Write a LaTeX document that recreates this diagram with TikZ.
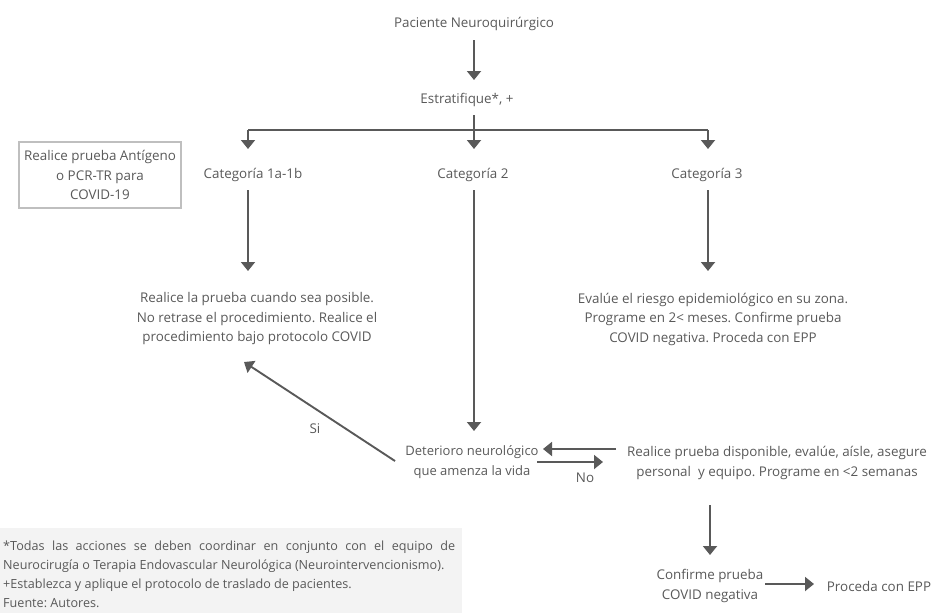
\documentclass[tikz,border=0pt]{standalone}
\usepackage{fontspec}
\setmainfont{Open Sans}
\usetikzlibrary{arrows.meta}
\definecolor{txt}{HTML}{595959}
\definecolor{ln}{HTML}{595959}
\definecolor{bx}{HTML}{BFBFBF}
\definecolor{fn}{HTML}{F3F3F3}
\tikzset{
  lbl/.style={text=txt, font=\fontsize{13.4}{19.5}\selectfont\frenchspacing, align=center, inner sep=0pt, yshift=-2pt},
  arr/.style={draw=ln, line width=1.9pt, -{Triangle[length=9pt,width=14pt]}},
  seg/.style={draw=ln, line width=1.9pt},
}
\begin{document}
\begin{tikzpicture}[x=1pt,y=-1pt]
\useasboundingbox (0,0) rectangle (941,613);
% footnote background
\fill[fn] (0,528) rectangle (462,613);
\node[lbl, align=left, anchor=north west, font=\fontsize{12.6}{19}\selectfont\frenchspacing] (foot) at (3,539)
 {\makebox[452pt][s]{*Todas las acciones se deben coordinar en conjunto con el equipo de}\\
 Neurocirugía o Terapia Endovascular Neurológica (Neurointervencionismo).\\
 +Establezca y aplique el protocolo de traslado de pacientes.\\
 Fuente: Autores.};

\node[lbl] (pac) at (474,22) {Paciente Neuroquirúrgico};
\node[lbl] (est) at (467,98) {Estratifique*, +};
\node[lbl] (c1) at (253,173) {Categoría 1a-1b};
\node[lbl] (c2) at (473,173) {Categoría 2};
\node[lbl] (c3) at (707,173) {Categoría 3};
\node[lbl, yshift=2pt, draw=bx, line width=1.2pt, minimum width=162pt, minimum height=66pt] (ant) at (100,175)
 {Realice prueba Antígeno\\o PCR-TR para\\COVID-19};
\node[lbl] (r1) at (257,317) {Realice la prueba cuando sea posible.\\No retrase el procedimiento. Realice el\\procedimiento bajo protocolo COVID};
\node[lbl] (r3) at (713,317) {Evalúe el riesgo epidemiológico en su zona.\\Programe en 2< meses. Confirme prueba\\COVID negativa. Proceda con EPP};
\node[lbl, font=\fontsize{13}{19.5}\selectfont\frenchspacing] (det) at (472,460) {Deterioro neurológico\\que amenza la vida};
\node[lbl] (rp) at (777,461) {Realice prueba disponible, evalúe, aísle, asegure\\personal\ \ y equipo. Programe en <2 semanas};
\node[lbl] (conf) at (710,584) {Confirme prueba\\COVID negativa};
\node[lbl] (proc) at (879,584) {Proceda con EPP};
\node[lbl] (si) at (315,427) {Si};
\node[lbl] (no) at (585,476) {No};

\coordinate (pacB) at (474,40);
\coordinate (estT) at (474,80);
\coordinate (estB) at (474,115);
\coordinate (br) at (474,130);
\coordinate (brL) at (248,130);
\coordinate (brR) at (708,130);
\coordinate (c1T) at (248,149);
\coordinate (c2T) at (474,149);
\coordinate (c3T) at (708,149);
\coordinate (c1B) at (248,190);
\coordinate (r1T) at (248,271);
\coordinate (c2B) at (474,190);
\coordinate (detT) at (474,431);
\coordinate (c3B) at (708,190);
\coordinate (r3T) at (708,271);
\coordinate (siA) at (395,461);
\coordinate (siB) at (244,362);
\coordinate (rpL) at (616,449);
\coordinate (detR) at (543,449);
\coordinate (detR2) at (537,462);
\coordinate (rpL2) at (603,462);
\coordinate (rpB) at (710,505);
\coordinate (confT) at (710,555);
\coordinate (confR) at (765,584);
\coordinate (procL) at (814,584);

\draw[arr] (pacB) -- (estT);
\draw[seg] (estB) -- (br);
\draw[seg] (brL) -- (brR);
\draw[arr] (brL) -- (c1T);
\draw[arr] (br) -- (c2T);
\draw[arr] (brR) -- (c3T);
\draw[arr] (c1B) -- (r1T);
\draw[arr] (c2B) -- (detT);
\draw[arr] (c3B) -- (r3T);
\draw[arr] (siA) -- (siB);
\draw[arr] (rpL) -- (detR);
\draw[arr] (detR2) -- (rpL2);
\draw[arr] (rpB) -- (confT);
\draw[arr] (confR) -- (procL);
\end{tikzpicture}
\end{document}
